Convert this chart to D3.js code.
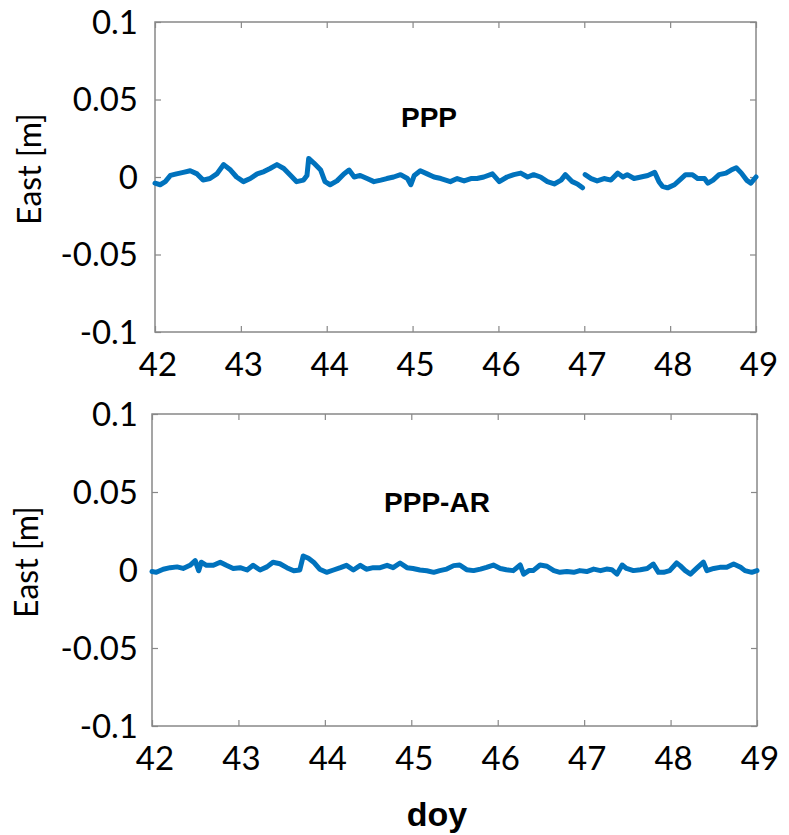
<!DOCTYPE html>
<html>
<head>
<meta charset="utf-8">
<script src="https://cdn.jsdelivr.net/npm/d3@7"></script>
<style>
  body { margin: 0; background: #fff; }
  svg text { font-family: Lato, "Open Sans", sans-serif; fill: #000; }
</style>
</head>
<body>
<script>
// east residuals (doy, metres)
const pppDays = [42.00, 42.06, 42.12, 42.18, 42.25, 42.33, 42.41, 42.49, 42.56, 42.64,
  42.72, 42.80, 42.88, 42.95, 43.03, 43.11, 43.19, 43.27, 43.34, 43.42,
  43.50, 43.58, 43.65, 43.73, 43.77, 43.79, 43.85, 43.93, 43.98, 44.04,
  44.12, 44.20, 44.26, 44.32, 44.39, 44.47, 44.55, 44.63, 44.70, 44.78,
  44.86, 44.94, 44.98, 45.02, 45.09, 45.17, 45.25, 45.33, 45.44, 45.52,
  45.60, 45.68, 45.75, 45.83, 45.93, 46.01, 46.10, 46.18, 46.26, 46.34,
  46.41, 46.49, 46.57, 46.65, 46.73, 46.78, 46.86, 46.92, 46.98, 46.995,
  47.01, 47.08, 47.15, 47.23, 47.31, 47.39, 47.45, 47.50, 47.58, 47.66,
  47.74, 47.82, 47.87, 47.91, 47.97, 48.05, 48.11, 48.18, 48.26, 48.32,
  48.40, 48.44, 48.50, 48.57, 48.65, 48.71, 48.77, 48.83, 48.89, 48.94, 49.00];
const pppEast = [-0.004, -0.005, -0.003, 0.001, 0.002, 0.003, 0.004, 0.002, -0.002, -0.001,
  0.002, 0.008, 0.0045, 0.0, -0.003, -0.001, 0.002, 0.0035, 0.0055, 0.008,
  0.0055, 0.001, -0.003, -0.002, 0.001, 0.012, 0.009, 0.0045, -0.003, -0.005,
  -0.0025, 0.002, 0.0045, 0.0, 0.001, -0.001, -0.003, -0.002, -0.001, 0.0,
  0.0015, -0.001, -0.005, 0.001, 0.004, 0.002, 0.0, -0.001, -0.003, -0.001,
  -0.0025, -0.001, -0.001, 0.0, 0.002, -0.003, 0.0, 0.0015, 0.0025, 0.0,
  0.0015, 0.0, -0.003, -0.0045, -0.002, 0.0015, -0.003, -0.0045, -0.007, null,
  0.0015, -0.001, -0.0025, -0.001, -0.002, 0.0025, 0.0, 0.0015, -0.001, 0.0,
  0.001, 0.003, -0.003, -0.006, -0.007, -0.005, -0.002, 0.0015, 0.0015, -0.001,
  -0.001, -0.004, -0.002, 0.0015, 0.0025, 0.0045, 0.006, 0.0025, -0.002, -0.004, 0.0];

const arDays = [42.00, 42.05, 42.13, 42.21, 42.29, 42.36, 42.44, 42.50, 42.54, 42.57,
  42.63, 42.71, 42.79, 42.86, 42.94, 43.02, 43.10, 43.17, 43.25, 43.33,
  43.40, 43.48, 43.56, 43.64, 43.71, 43.75, 43.81, 43.87, 43.94, 44.02,
  44.10, 44.18, 44.25, 44.33, 44.41, 44.48, 44.56, 44.64, 44.72, 44.79,
  44.87, 44.95, 45.02, 45.10, 45.18, 45.26, 45.33, 45.41, 45.49, 45.56,
  45.64, 45.72, 45.80, 45.87, 45.95, 46.03, 46.10, 46.18, 46.26, 46.30,
  46.36, 46.41, 46.49, 46.57, 46.65, 46.72, 46.80, 46.88, 46.95, 47.03,
  47.11, 47.19, 47.26, 47.32, 47.38, 47.44, 47.49, 47.57, 47.65, 47.73,
  47.80, 47.86, 47.92, 47.99, 48.07, 48.11, 48.17, 48.23, 48.30, 48.38,
  48.42, 48.50, 48.57, 48.65, 48.73, 48.81, 48.86, 48.94, 49.00];
const arEast = [-0.001, -0.0015, 0.0005, 0.0015, 0.002, 0.001, 0.003, 0.006, -0.0005, 0.005,
  0.003, 0.003, 0.005, 0.003, 0.001, 0.0015, 0.0, 0.003, 0.0, 0.002,
  0.005, 0.004, 0.0015, -0.0005, 0.0, 0.009, 0.0075, 0.005, 0.0005, -0.0015,
  0.0, 0.0015, 0.003, 0.0, 0.003, 0.0005, 0.0015, 0.0015, 0.003, 0.0015,
  0.0045, 0.0015, 0.001, 0.0, -0.0005, -0.0015, -0.0004, 0.0006, 0.0028, 0.0032,
  0.0002, -0.0004, 0.0006, 0.0017, 0.0032, 0.001, 0.0002, -0.0004, 0.0032, -0.0026,
  -0.0004, -0.0004, 0.0032, 0.0024, -0.0004, -0.0015, -0.001, -0.0015, -0.0004, -0.001,
  0.0006, -0.0004, 0.0006, 0.0002, -0.0026, 0.0032, 0.001, -0.0004, 0.0002, 0.001,
  0.0038, -0.0015, -0.0015, -0.0004, 0.0045, 0.0028, -0.0004, -0.0026, 0.001, 0.005,
  -0.0004, 0.001, 0.0017, 0.0017, 0.0038, 0.0017, -0.0004, -0.0015, -0.0004];

const dayTicks = [42, 43, 44, 45, 46, 47, 48, 49];
const eastTicks = [-0.1, -0.05, 0, 0.05, 0.1];
const eastTickLabels = ["-0.1", "-0.05", "0", "0.05", "0.1"];

const W = 789, H = 835;
const svg = d3.select("body").append("svg")
    .attr("width", W)
    .attr("height", H);

const panels = [
    {title: "PPP", days: pppDays, east: pppEast, left: 155, right: 756, top: 22, bottom: 332, tx: 429, ty: 127},
    {title: "PPP-AR", days: arDays, east: arEast, left: 152, right: 757, top: 414, bottom: 726, tx: 437, ty: 512}
];

panels.forEach(function(p) {
    const x = d3.scaleLinear().domain([42, 49]).range([p.left, p.right]);
    const y = d3.scaleLinear().domain([-0.1, 0.1]).range([p.bottom, p.top]);
    const g = svg.append("g");

    // ticks on every side, pointing in (matlab box)
    const tickLen = 6;
    g.append("g")
        .attr("transform", "translate(0," + p.bottom + ")")
        .call(d3.axisBottom(x).tickValues(dayTicks).tickSize(-tickLen).tickFormat(""));
    g.append("g")
        .attr("transform", "translate(0," + p.top + ")")
        .call(d3.axisTop(x).tickValues(dayTicks).tickSize(-tickLen).tickFormat(""));
    g.append("g")
        .attr("transform", "translate(" + p.left + ",0)")
        .call(d3.axisLeft(y).tickValues(eastTicks).tickSize(-tickLen).tickFormat(""));
    g.append("g")
        .attr("transform", "translate(" + p.right + ",0)")
        .call(d3.axisRight(y).tickValues(eastTicks).tickSize(-tickLen).tickFormat(""));
    g.selectAll(".domain").remove();
    g.selectAll(".tick line").attr("stroke", "#888").attr("stroke-width", 1.2);

    g.append("rect")
        .attr("x", p.left).attr("y", p.top)
        .attr("width", p.right - p.left).attr("height", p.bottom - p.top)
        .attr("fill", "none").attr("stroke", "#888").attr("stroke-width", 1.5);

    // tick labels
    g.selectAll(".ylab").data(eastTicks).enter().append("text")
        .attr("x", 138)
        .attr("y", d => y(d))
        .attr("dy", "0.36em")
        .attr("text-anchor", "end")
        .style("font-size", "33px")
        .text((d, i) => eastTickLabels[i]);

    g.selectAll(".xlab").data(dayTicks).enter().append("text")
        .attr("x", d => x(d) + 3)
        .attr("y", p.bottom + 44)
        .attr("text-anchor", "middle")
        .style("font-size", "33px")
        .text(d => d);

    g.append("text")
        .attr("transform", "translate(" + (p.left - 114) + "," + ((p.top + p.bottom) / 2 - 8) + ") rotate(-90)")
        .attr("text-anchor", "middle")
        .style("font-size", "32px")
        .text("East [m]");

    g.append("text")
        .attr("x", p.tx).attr("y", p.ty)
        .attr("text-anchor", "middle")
        .style("font-family", "'Liberation Sans', Arial, sans-serif")
        .style("font-weight", "bold")
        .style("font-size", "28px")
        .text(p.title);

    const line = d3.line()
        .defined(d => d[1] !== null)
        .x(d => x(d[0]))
        .y(d => y(d[1]));

    g.append("path")
        .datum(p.days.map((d, i) => [d, p.east[i]]))
        .attr("fill", "none")
        .attr("stroke", "#0072BD")
        .attr("stroke-width", 5)
        .attr("stroke-linejoin", "round")
        .attr("stroke-linecap", "round")
        .attr("d", line);
});

svg.append("text")
    .attr("x", 437).attr("y", 826)
    .attr("text-anchor", "middle")
    .style("font-family", "'Liberation Sans', Arial, sans-serif")
    .style("font-weight", "bold")
    .style("font-size", "34px")
    .text("doy");
</script>
</body>
</html>
